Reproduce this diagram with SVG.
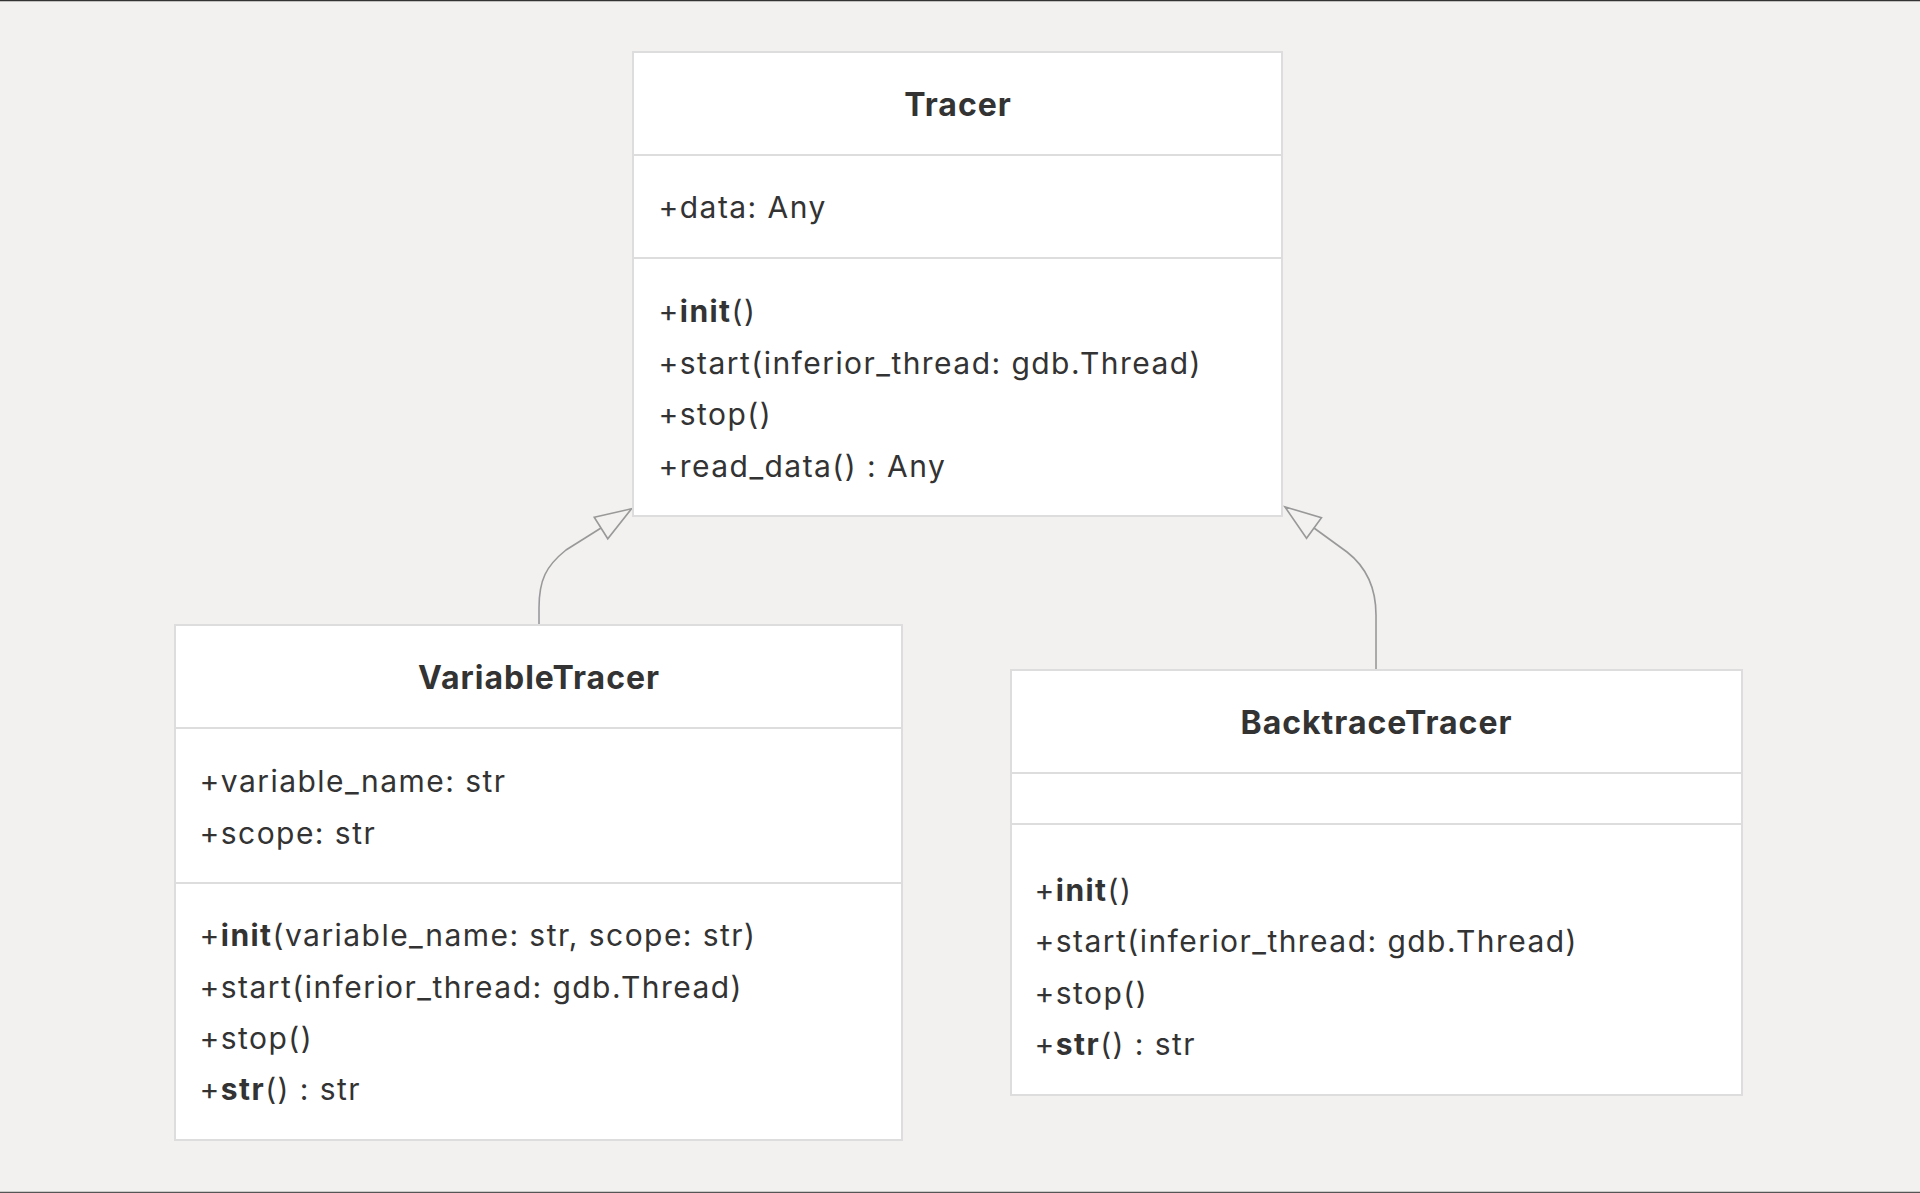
<svg xmlns="http://www.w3.org/2000/svg" width="1920" height="1193" viewBox="0 0 1920 1193">
<style>
.bg{fill:#f2f1ef}
.box{fill:#ffffff;stroke:#dddddd;stroke-width:2}
.div{stroke:#dddddd;stroke-width:2}
.t{font-family:Inter,"Noto Sans",sans-serif;font-size:30px;letter-spacing:1.45px;fill:#333333}
.title{font-size:32px;letter-spacing:1px;font-weight:700;text-anchor:middle}
.b{font-weight:700}
.edge{fill:none;stroke:#999999;stroke-width:1.6}
</style>
<defs>
<marker id="inh" markerUnits="userSpaceOnUse" markerWidth="40" markerHeight="30" refX="0" refY="0" orient="auto" overflow="visible">
<path d="M0,-12.7 L36,0 L0,12.7 Z" fill="#f2f1ef" stroke="#999999" stroke-width="1.6"/>
</marker>
</defs>
<rect class="bg" x="0" y="0" width="1920" height="1193"/>
<line x1="0" y1="0.5" x2="1920" y2="0.5" stroke="#333333" stroke-width="1.5"/>
<line x1="0" y1="1192.5" x2="1920" y2="1192.5" stroke="#555555" stroke-width="1.5"/>

<g id="connectors">
<path class="edge" d="M539,624 L539,608 C539,580 546,566 566,550 L601,528" marker-end="url(#inh)"/>
<path class="edge" d="M1376,670 L1376,615 C1376,585 1365,566 1347,552 L1314,528" marker-end="url(#inh)"/>
</g>

<g id="Tracer">
<rect class="box" x="633" y="52" width="649" height="464"/>
<line class="div" x1="633" y1="155" x2="1282" y2="155"/>
<line class="div" x1="633" y1="258" x2="1282" y2="258"/>
<text class="t title" x="958" y="116">Tracer</text>
<text class="t" x="658.5" y="218">+data: Any</text>
<text class="t" x="658.5" y="322">+<tspan class="b">init</tspan>()</text>
<text class="t" x="658.5" y="374">+start(inferior_thread: gdb.Thread)</text>
<text class="t" x="658.5" y="425">+stop()</text>
<text class="t" x="658.5" y="477">+read_data() : Any</text>
</g>

<g id="VariableTracer">
<rect class="box" x="175" y="625" width="727" height="515"/>
<line class="div" x1="175" y1="728" x2="902" y2="728"/>
<line class="div" x1="175" y1="883" x2="902" y2="883"/>
<text class="t title" x="539" y="689">VariableTracer</text>
<text class="t" x="199.5" y="792">+variable_name: str</text>
<text class="t" x="199.5" y="844">+scope: str</text>
<text class="t" x="199.5" y="946">+<tspan class="b">init</tspan>(variable_name: str, scope: str)</text>
<text class="t" x="199.5" y="998">+start(inferior_thread: gdb.Thread)</text>
<text class="t" x="199.5" y="1049">+stop()</text>
<text class="t" x="199.5" y="1100">+<tspan class="b">str</tspan>() : str</text>
</g>

<g id="BacktraceTracer">
<rect class="box" x="1011" y="670" width="731" height="425"/>
<line class="div" x1="1011" y1="773" x2="1742" y2="773"/>
<line class="div" x1="1011" y1="824" x2="1742" y2="824"/>
<text class="t title" x="1376.5" y="734">BacktraceTracer</text>
<text class="t" x="1034.5" y="901">+<tspan class="b">init</tspan>()</text>
<text class="t" x="1034.5" y="952">+start(inferior_thread: gdb.Thread)</text>
<text class="t" x="1034.5" y="1004">+stop()</text>
<text class="t" x="1034.5" y="1055">+<tspan class="b">str</tspan>() : str</text>
</g>
</svg>
